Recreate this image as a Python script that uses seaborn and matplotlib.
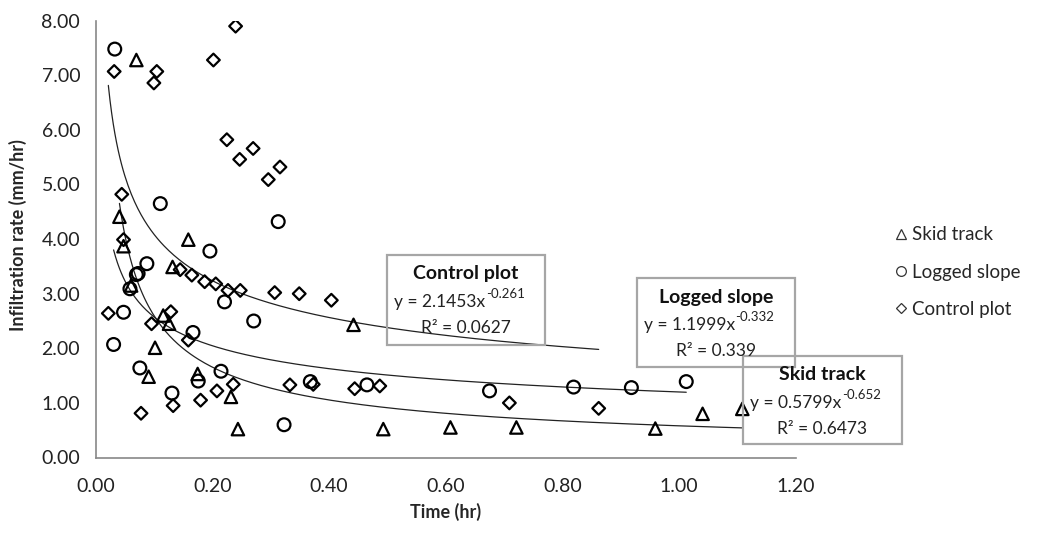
import numpy as np
import pandas as pd
import matplotlib
matplotlib.use("Agg")
import matplotlib.pyplot as plt
from matplotlib.patches import Rectangle
import seaborn as sns

# ---------------- data ----------------
series_names = ["Skid track", "Logged slope", "Control plot"]

skid_x = [0.070, 0.041, 0.159, 0.048, 0.132, 0.061, 0.116, 0.126, 0.102, 0.091,
          0.175, 0.232, 0.244, 0.442, 0.493, 0.608, 0.721, 0.959, 1.040, 1.108]
skid_y = [7.28, 4.41, 3.99, 3.87, 3.49, 3.15, 2.60, 2.45, 2.01, 1.48,
          1.53, 1.11, 0.52, 2.43, 0.52, 0.55, 0.55, 0.53, 0.80, 0.89]

logged_x = [0.033, 0.111, 0.313, 0.196, 0.088, 0.070, 0.073, 0.059, 0.221, 0.048,
            0.271, 0.167, 0.031, 0.076, 0.215, 0.176, 0.131, 0.323, 0.368, 0.465,
            0.675, 0.819, 0.918, 1.012]
logged_y = [7.48, 4.65, 4.32, 3.78, 3.55, 3.35, 3.37, 3.09, 2.85, 2.66,
            2.50, 2.29, 2.07, 1.64, 1.58, 1.40, 1.18, 0.60, 1.39, 1.33,
            1.22, 1.29, 1.28, 1.39]

control_x = [0.032, 0.105, 0.100, 0.240, 0.202, 0.225, 0.247, 0.270, 0.296, 0.316,
             0.045, 0.048, 0.145, 0.165, 0.187, 0.206, 0.227, 0.248, 0.307, 0.349,
             0.404, 0.022, 0.129, 0.096, 0.159, 0.208, 0.236, 0.133, 0.180, 0.078,
             0.333, 0.373, 0.444, 0.487, 0.709, 0.862]
control_y = [7.07, 7.07, 6.86, 7.90, 7.28, 5.82, 5.46, 5.66, 5.09, 5.32,
             4.82, 3.99, 3.44, 3.34, 3.22, 3.18, 3.06, 3.06, 3.02, 3.00,
             2.88, 2.64, 2.67, 2.45, 2.15, 1.22, 1.34, 0.95, 1.05, 0.81,
             1.33, 1.34, 1.26, 1.31, 1.00, 0.90]

# power trend lines y = a * x^b (as drawn)
trend_a = [0.5799, 1.1999, 1.883]
trend_b = [-0.652, -0.332, -0.337]

# trend-line labels
box_titles = ["Skid track", "Logged slope", "Control plot"]
box_coef = ["0.5799", "1.1999", "2.1453"]
box_exp = ["-0.652", "-0.332", "-0.261"]
box_r2 = ["0.6473", "0.339", "0.0627"]

x_ticks = [0.0, 0.2, 0.4, 0.6, 0.8, 1.0, 1.2]
y_ticks = [0, 1, 2, 3, 4, 5, 6, 7, 8]

# ---------------- styling ----------------
sns.set_style("white")
plt.rcParams["font.family"] = ["Lato", "DejaVu Sans"]

W, H = 1044, 533
fig = plt.figure(figsize=(W / 100, H / 100), dpi=100)

def fx(px):
    return px / W

def fy(py):
    return 1 - py / H

ax_l, ax_r, ax_t, ax_b = 95.5, 796.0, 20.7, 457.5
ax = fig.add_axes([fx(ax_l), fy(ax_b), (ax_r - ax_l) / W, (ax_b - ax_t) / H])

xs = [skid_x, logged_x, control_x]
ys = [skid_y, logged_y, control_y]
markers = ["^", "o", "D"]
sizes = [80, 85, 42]

for name, x, y, m, s in zip(series_names, xs, ys, markers, sizes):
    sns.scatterplot(x=x, y=y, marker=m, s=s, color="black", facecolors="none",
                    edgecolors="black", linewidths=1.6, ax=ax, label=name,
                    legend=False, zorder=3)

for x, a, b in zip(xs, trend_a, trend_b):
    xx = np.linspace(min(x), max(x), 300)
    sns.lineplot(x=xx, y=a * xx ** b, color="#222222", lw=0.9, ax=ax,
                 legend=False, zorder=2)

ax.set_xlim(0, 1.2)
ax.set_ylim(0, 8)
ax.set_xticks(x_ticks)
ax.set_yticks(y_ticks)
ax.set_xticklabels([f"{v:.2f}" for v in x_ticks])
ax.set_yticklabels([f"{v:.2f}" for v in y_ticks])
ax.tick_params(axis="both", labelsize=14, colors="#888888", labelcolor="#222222",
               length=6, width=1.2, direction="out", pad=5)
ax.tick_params(axis="x", pad=9)
for side in ["top", "right"]:
    ax.spines[side].set_visible(False)
for side in ["left", "bottom"]:
    ax.spines[side].set_color("#888888")
    ax.spines[side].set_linewidth(1.2)
ax.set_xlabel("")
ax.set_ylabel("")

fig.text(fx(18), fy(235), "Infiltration rate (mm/hr)",
         rotation=90, ha="center", va="center", fontsize=13, fontweight="bold")
fig.text(fx(446), fy(512), "Time (hr)", ha="center", va="center",
         fontsize=13, fontweight="bold")

# legend
handles = [plt.Line2D([], [], marker=m, ls="none", mfc="none", mec="#333333",
                      mew=0.9, ms=7 if m != "D" else 5.5) for m in markers]
fig.legend(handles, series_names, loc="upper left",
           bbox_to_anchor=(fx(884), fy(219)), frameon=False, fontsize=13.5,
           handletextpad=0.1, labelspacing=1.08, handlelength=1.0,
           borderaxespad=0)

# trendline label boxes (pixel layout)
boxes = {
    "Control plot": (387.3, 255.0, 545.0, 345.0),
    "Logged slope": (636.7, 278.3, 795.0, 367.3),
    "Skid track": (743.3, 356.0, 901.7, 444.3),
}
sup_w = 38  # approximate superscript width in px
for title, coef, ex, r2 in zip(box_titles, box_coef, box_exp, box_r2):
    x0, y0, x1, y1 = boxes[title]
    fig.add_artist(Rectangle((fx(x0), fy(y1)), (x1 - x0) / W, (y1 - y0) / H,
                             transform=fig.transFigure, fill=False,
                             edgecolor="#a6a6a6", lw=1.6))
    cx = (x0 + x1) / 2
    fig.text(fx(cx), fy(y0 + 19), title, ha="center", va="center",
             fontsize=14, fontweight="bold", color="#111111")
    fig.text(fx(cx + sup_w / 2), fy(y0 + 47), f"y = {coef}x", ha="right",
             va="center", fontsize=12.5, color="#222222")
    fig.text(fx(cx + sup_w / 2 + 0.5), fy(y0 + 39), ex, ha="left",
             va="center", fontsize=9.5, color="#222222")
    fig.text(fx(cx), fy(y0 + 73), f"R\u00b2 = {r2}", ha="center", va="center",
             fontsize=12.5, color="#222222")

fig.savefig("out.png", dpi=100)
